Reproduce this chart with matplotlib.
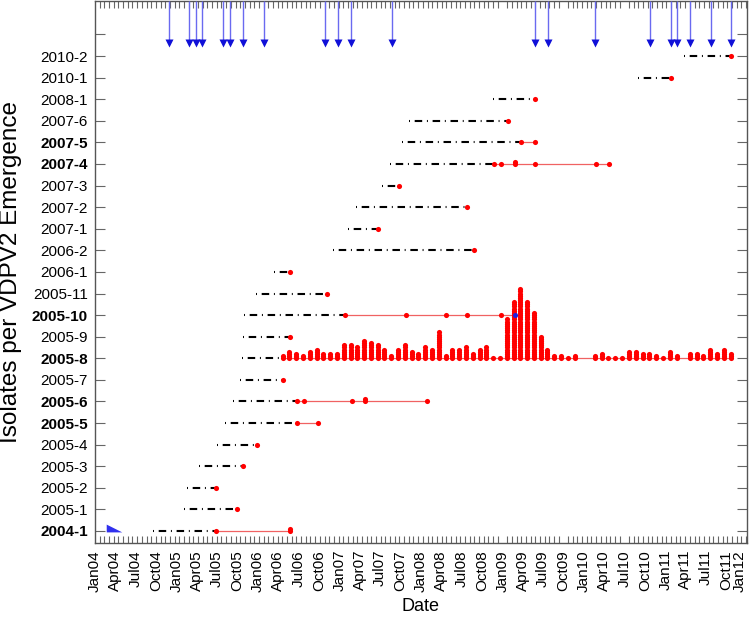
import matplotlib
matplotlib.use('Agg')
import matplotlib.pyplot as plt
import matplotlib.dates as mdates
from matplotlib.path import Path
from matplotlib.ticker import FixedLocator
import numpy as np
import pandas as pd

plt.rcParams['font.family'] = ['Liberation Sans', 'DejaVu Sans']
plt.rcParams['lines.scale_dashes'] = False

categories = ['2004-1', '2005-1', '2005-2', '2005-3', '2005-4', '2005-5', '2005-6',
              '2005-7', '2005-8', '2005-9', '2005-10', '2005-11', '2006-1', '2006-2',
              '2007-1', '2007-2', '2007-3', '2007-4', '2007-5', '2007-6', '2008-1',
              '2010-1', '2010-2']
bold_categories = ['2004-1', '2005-5', '2005-6', '2005-8', '2005-10', '2007-4', '2007-5']

# estimated start of each emergence (start of the dash-dot line)
emergence_start = ['2004-09-15', '2005-02-04', '2005-02-16', '2005-04-10', '2005-06-30',
                   '2005-08-05', '2005-09-09', '2005-10-12', '2005-10-19', '2005-10-26',
                   '2005-10-29', '2005-12-21', '2006-03-12', '2006-12-04', '2007-02-10',
                   '2007-03-14', '2007-07-10', '2007-08-14', '2007-10-10', '2007-11-09',
                   '2008-11-21', '2010-09-01', '2011-03-28']

# isolate dates per emergence (2005-8 is given monthly below)
isolate_dates = [
    ['2005-06-25', '2006-05-26'],
    ['2005-09-27'],
    ['2005-06-25'],
    ['2005-10-26'],
    ['2005-12-27'],
    ['2006-06-25', '2006-09-25'],
    ['2006-06-25', '2006-07-26', '2007-02-25', '2007-04-24', '2008-01-27'],
    ['2006-04-25'],
    [],
    ['2006-05-26'],
    ['2007-01-27', '2007-10-25', '2008-04-25', '2008-07-26', '2008-12-25', '2009-02-25'],
    ['2006-11-07'],
    ['2006-05-26'],
    ['2008-08-26'],
    ['2007-06-25'],
    ['2008-07-26'],
    ['2007-09-24'],
    ['2008-11-26', '2008-12-25', '2009-02-25', '2009-05-25', '2010-02-23', '2010-04-24'],
    ['2009-03-24', '2009-05-25'],
    ['2009-01-26'],
    ['2009-05-25'],
    ['2011-01-25'],
    ['2011-10-21'],
]
isolate_counts = [
    [1, 2], [1], [1], [1], [1], [1, 1], [1, 1, 1, 2, 1], [1], [], [1],
    [1, 1, 1, 1, 1, 1], [1], [1], [1], [1], [1], [1], [1, 1, 2, 1, 1, 1],
    [1, 1], [1], [1], [1], [1],
]

# 2005-8 monthly isolate counts, Apr 2006 .. Oct 2011
row8_first_month = '2006-04'
row8_counts = [2, 4, 3, 2, 4, 5, 3, 3, 3,
               7, 7, 6, 9, 8, 7, 5, 2, 5, 7, 4, 3,
               6, 5, 13, 2, 5, 5, 6, 3, 5, 6, 1, 1,
               19, 27, 33, 27, 22, 11, 5, 2, 2, 1, 2, 0,
               0, 2, 3, 1, 1, 1, 4, 4, 3, 3, 2, 1,
               4, 2, 0, 3, 3, 2, 5, 3, 5, 3]

highlight_category = '2005-10'
highlight_date = '2009-02-25'

arrow_dates = ['2004-11-28', '2005-02-24', '2005-03-27', '2005-04-26', '2005-07-27',
               '2005-08-28', '2005-10-27', '2006-01-27', '2006-10-28', '2006-12-27',
               '2007-02-24', '2007-08-26', '2009-05-26', '2009-07-25', '2010-02-22',
               '2010-10-25', '2011-01-26', '2011-02-21', '2011-04-24', '2011-07-24',
               '2011-10-24']

wedge_date = '2004-03-27'
wedge_level = 0.14

# ---------------------------------------------------------------------------
fig = plt.figure(figsize=(7.5, 6.22), dpi=100)
ax = fig.add_axes([95 / 750, 1 - 543 / 622, (746.7 - 95) / 750, 542 / 622])

row8_dates = pd.date_range(row8_first_month + '-01', periods=len(row8_counts), freq='MS') + pd.Timedelta(days=20)
isolate_dates[categories.index('2005-8')] = [d.strftime('%Y-%m-%d') for d in row8_dates]
isolate_counts[categories.index('2005-8')] = row8_counts

step = 0.1
dashdot = (0, (0.7, 3.4, 5.4, 3.4))
for i, cat in enumerate(categories):
    dates = pd.to_datetime(isolate_dates[i])
    counts = isolate_counts[i]
    start = pd.to_datetime(emergence_start[i])
    ax.plot([start, dates[0]], [i, i], color='black', lw=1.5, linestyle=dashdot,
            dash_capstyle='butt', zorder=2)
    if len(dates) > 1:
        ax.plot([dates[0], dates[-1]], [i, i], color='#f06262', lw=0.9, zorder=3)
    for d, c in zip(dates, counts):
        if c <= 0:
            continue
        color = 'red'
        if cat == highlight_category and d == pd.to_datetime(highlight_date):
            color = '#2020e0'
        ax.plot([d] * c, i + step * np.arange(c), 'o', color=color, ms=3.7,
                mec='none', zorder=4 if color == 'red' else 6)

# blue arrows at top
top = 24.55
for d in pd.to_datetime(arrow_dates):
    ax.plot([d, d], [top, 22.72], color='#6a6af0', lw=1.0, zorder=3, solid_capstyle='butt')
    ax.plot([d], [22.62], marker='v', color='#1010d8', ms=5.5, mec='none', zorder=4)

# wedge marker
wedge = Path([(-1, -0.5), (-1, 0.5), (1, -0.5), (-1, -0.5)],
             [Path.MOVETO, Path.LINETO, Path.LINETO, Path.CLOSEPOLY])
ax.plot([pd.to_datetime(wedge_date)], [wedge_level], marker=wedge, ms=11.2,
        color='#3030ee', mec='none', zorder=4)

ax.set_xlim(pd.Timestamp('2004-01-01'), pd.Timestamp('2012-01-01'))
ax.set_ylim(-0.556, top)

ax.xaxis.set_major_locator(mdates.MonthLocator(bymonth=[1, 4, 7, 10]))
ax.xaxis.set_major_formatter(mdates.DateFormatter('%b%y'))
minor = np.arange(mdates.date2num(pd.Timestamp('2004-01-01')),
                  mdates.date2num(pd.Timestamp('2012-01-01')), 21)
ax.xaxis.set_minor_locator(FixedLocator(minor))
ax.tick_params(axis='x', which='both', direction='in', length=5, top=True, bottom=True,
               color='#666666', width=0.8, labelsize=11, rotation=90, pad=5)
ax.tick_params(axis='x', which='major', length=0)
xl = ax.get_xticklabels()
for lbl in ax.get_xticklabels():
    lbl.set_horizontalalignment('center')
# keep the last label inside the figure
fig.canvas.draw()
last = ax.get_xticklabels()[-1]
last.set_horizontalalignment('right')

ax.set_yticks(range(len(categories) + 1))
ax.set_yticklabels(categories + [''])
ax.tick_params(axis='y', direction='in', length=7, left=True, right=True,
               color='#666666', width=0.8, labelsize=11, pad=5)
for lbl in ax.get_yticklabels():
    if lbl.get_text() in bold_categories:
        lbl.set_fontweight('bold')

for s in ax.spines.values():
    s.set_color('#555555')
    s.set_linewidth(1.0)

ax.set_ylabel('Isolates per VDPV2 Emergence', fontsize=17.5)
ax.yaxis.set_label_coords(-0.112, 0.5)
ax.set_xlabel('Date', fontsize=13)
ax.xaxis.set_label_coords(0.5, -0.1015)

fig.savefig('out.png', dpi=100)
